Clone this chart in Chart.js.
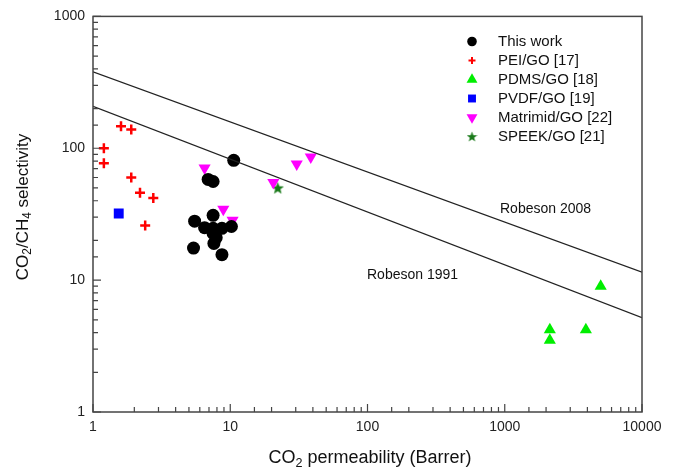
<!DOCTYPE html>
<html>
<head>
<meta charset="utf-8">
<script src="https://cdn.jsdelivr.net/npm/chart.js@4.4.1/dist/chart.umd.min.js"></script>
<style>
  html, body { margin: 0; padding: 0; background: #fff; }
</style>
</head>
<body>
<canvas id="chart" width="679" height="471"></canvas>
<script>
// values (CO2 permeability in Barrer, CO2/CH4 selectivity)
const thisWorkX = [10.6, 6.9, 7.5, 5.5, 7.5, 6.5, 7.5, 8.7, 10.2, 7.5, 7.6, 5.4, 8.7, 7.9];
const thisWorkY = [81, 58, 56, 28, 31, 25, 24.7, 24.7, 25.5, 22.6, 19, 17.5, 15.6, 21];
const peiX = [1.6, 1.9, 1.2, 1.2, 1.9, 2.2, 2.75, 2.4];
const peiY = [147, 139, 100, 77, 60, 46, 42, 26];
const pdmsX = [2130, 2130, 3900, 5000];
const pdmsY = [4.2, 3.5, 4.2, 9.0];
const pvdfX = [1.54];
const pvdfY = [32];
const matrimidX = [6.5, 8.9, 10.4, 20.6, 30.5, 38.6];
const matrimidY = [71, 34.5, 28.5, 55, 76, 86];
const speekX = [22.2];
const speekY = [50];

// upper bounds (ends of each line)
const robesonX = [1, 10000];
const robeson1991Y = [208, 5.2];
const robeson2008Y = [380, 11.5];

const xTicks = [1, 10, 100, 1000, 10000];
const yTicks = [1, 10, 100, 1000];

const FONT = '"Liberation Sans", Arial, sans-serif';

function toPoints(xs, ys) {
  return xs.map((x, i) => ({ x: x, y: ys[i] }));
}

function makeStar(size, color) {
  const c = document.createElement('canvas');
  c.width = size;
  c.height = size;
  const g = c.getContext('2d');
  const cx = size / 2, cy = size / 2 + 0.5;
  const R = size / 2, r = R * 0.42;
  g.beginPath();
  for (let i = 0; i < 10; i++) {
    const rad = i % 2 === 0 ? R : r;
    const a = -Math.PI / 2 + i * Math.PI / 5;
    g.lineTo(cx + rad * Math.cos(a), cy + rad * Math.sin(a));
  }
  g.closePath();
  g.fillStyle = color;
  g.fill();
  return c;
}

const starBig = makeStar(13, '#1a7a1a');
const starSmall = makeStar(11, '#1a7a1a');

const isDecade = v => Math.abs(Math.log10(v) - Math.round(Math.log10(v))) < 1e-9;

function lineSet(ys) {
  return {
    type: 'line',
    data: toPoints(robesonX, ys),
    borderColor: '#222',
    borderWidth: 1.2,
    pointRadius: 0,
    fill: false,
    legend: false
  };
}

const datasets = [
  lineSet(robeson2008Y),
  lineSet(robeson1991Y),
  { label: 'This work', data: toPoints(thisWorkX, thisWorkY), pointStyle: 'circle', pointRadius: 6.5,
    backgroundColor: '#000', borderColor: '#000', borderWidth: 0, lg: { radius: 4.8 } },
  { label: 'PEI/GO [17]', data: toPoints(peiX, peiY), pointStyle: 'cross', pointRadius: 5,
    backgroundColor: '#ff0000', borderColor: '#ff0000', borderWidth: 2.5, lg: { radius: 3.5, borderWidth: 2 } },
  { label: 'PDMS/GO [18]', data: toPoints(pdmsX, pdmsY), pointStyle: 'triangle', pointRadius: 7,
    backgroundColor: '#00ee00', borderColor: '#00ee00', borderWidth: 0, lg: { radius: 6.3 } },
  { label: 'PVDF/GO [19]', data: toPoints(pvdfX, pvdfY), pointStyle: 'rect', pointRadius: 7,
    backgroundColor: '#0000ff', borderColor: '#0000ff', borderWidth: 0, lg: { radius: 5.6 } },
  { label: 'Matrimid/GO [22]', data: toPoints(matrimidX, matrimidY), pointStyle: 'triangle', pointRotation: 180,
    pointRadius: 7, backgroundColor: '#ff00ff', borderColor: '#ff00ff', borderWidth: 0, lg: { radius: 6.3 } },
  { label: 'SPEEK/GO [21]', data: toPoints(speekX, speekY), pointStyle: starBig, pointRadius: 6,
    backgroundColor: '#1a7a1a', borderColor: '#1a7a1a', borderWidth: 0, lg: { image: starSmall } }
];

function subText(ctx, parts, x, y, size) {
  // parts: [text, isSub]
  let w = 0;
  parts.forEach(p => {
    ctx.font = (p[1] ? size * 0.7 : size) + 'px ' + FONT;
    w += ctx.measureText(p[0]).width;
  });
  let cx = x - w / 2;
  parts.forEach(p => {
    ctx.font = (p[1] ? size * 0.7 : size) + 'px ' + FONT;
    ctx.fillText(p[0], cx, y + (p[1] ? size * 0.3 : 0));
    cx += ctx.measureText(p[0]).width;
  });
}

const framePlugin = {
  id: 'frame',
  afterDatasetsDraw(chart) {
    const ctx = chart.ctx;
    const a = chart.chartArea;
    const xs = chart.scales.x, ys = chart.scales.y;
    ctx.save();
    ctx.strokeStyle = '#444';
    ctx.lineWidth = 1.5;
    ctx.strokeRect(a.left, a.top, a.right - a.left, a.bottom - a.top);

    // inward tick marks
    ctx.lineWidth = 1.2;
    ctx.beginPath();
    xs.ticks.forEach(t => {
      const px = xs.getPixelForValue(t.value);
      const len = isDecade(t.value) ? 8 : 5;
      ctx.moveTo(px, a.bottom);
      ctx.lineTo(px, a.bottom - len);
    });
    ys.ticks.forEach(t => {
      const py = ys.getPixelForValue(t.value);
      const len = isDecade(t.value) ? 8 : 5;
      ctx.moveTo(a.left, py);
      ctx.lineTo(a.left + len, py);
    });
    ctx.stroke();

    // line labels
    ctx.fillStyle = '#111';
    ctx.font = '14px ' + FONT;
    ctx.textBaseline = 'middle';
    ctx.textAlign = 'left';
    ctx.fillText('Robeson 2008', 500, 209);
    ctx.fillText('Robeson 1991', 367, 275);

    // axis titles
    subText(ctx, [['CO', 0], ['2', 1], [' permeability (Barrer)', 0]], 370, 458, 18);
    ctx.save();
    ctx.translate(23, 207);
    ctx.rotate(-Math.PI / 2);
    subText(ctx, [['CO', 0], ['2', 1], ['/CH', 0], ['4', 1], [' selectivity', 0]], 0, 0, 17);
    ctx.restore();

    // legend inside the plot
    let ly = 41.5;
    chart.data.datasets.forEach(ds => {
      if (ds.legend === false) return;
      ctx.fillStyle = ds.backgroundColor;
      ctx.strokeStyle = ds.borderColor;
      ctx.lineWidth = ds.lg.borderWidth || 0;
      Chart.helpers.drawPoint(ctx, {
        pointStyle: ds.lg.image || ds.pointStyle,
        rotation: ds.pointRotation || 0,
        radius: ds.lg.radius || 5,
        borderWidth: ds.lg.borderWidth || 0
      }, 472, ly);
      ctx.fillStyle = '#111';
      ctx.font = '15px ' + FONT;
      ctx.textAlign = 'left';
      ctx.fillText(ds.label, 498, ly + 0.5);
      ly += 19;
    });
    ctx.restore();
  }
};

function scatterChart(id) {
  const config = {
    type: 'scatter',
    data: { datasets: datasets },
    options: {
      responsive: false,
      animation: false,
      devicePixelRatio: 1,
      layout: { padding: { left: 0, right: 37, top: 16, bottom: 0 } },
      plugins: { legend: { display: false }, tooltip: { enabled: false } },
      scales: {
        x: {
          type: 'logarithmic',
          min: 1,
          max: 10000,
          grid: { display: false, drawTicks: false },
          border: { display: false },
          afterFit: s => { s.height = 59; },
          ticks: {
            autoSkip: false,
            maxRotation: 0,
            padding: 7,
            color: '#222',
            font: { family: FONT, size: 14 },
            callback: v => xTicks.includes(v) ? String(v) : ''
          }
        },
        y: {
          type: 'logarithmic',
          min: 1,
          max: 1000,
          grid: { display: false, drawTicks: false },
          border: { display: false },
          afterFit: s => { s.width = 93; },
          ticks: {
            autoSkip: false,
            padding: 8,
            color: '#222',
            font: { family: FONT, size: 14 },
            callback: v => yTicks.includes(v) ? String(v) : ''
          }
        }
      }
    },
    plugins: [framePlugin]
  };

  let c = document.getElementById(id).getContext('2d');
  new Chart(c, config);
}

scatterChart('chart');
</script>
</body>
</html>
